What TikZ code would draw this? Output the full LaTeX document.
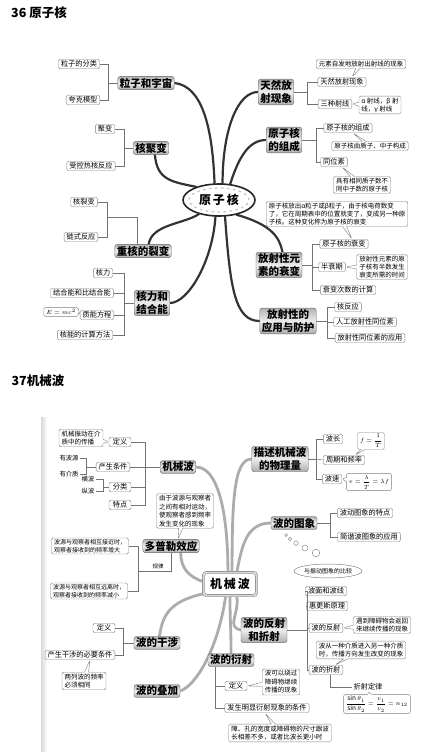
\documentclass[tikz,border=0pt]{standalone}
\usepackage{fontspec}
\setmainfont{Noto Sans CJK SC}
\usepackage{amsmath}
\usetikzlibrary{shapes,arrows,positioning,fit,backgrounds,calc}

\begin{document}
\begin{tikzpicture}[
    x=1pt, y=-1pt,
    headline/.style={inner sep=0pt, font=\fontsize{12.5}{14}\selectfont\bfseries},
    hub/.style={ellipse, draw=black!85, line width=1.6pt, fill=white, minimum width=72pt, minimum height=32pt, inner sep=0pt, font=\fontsize{12}{14}\selectfont\bfseries},
    hubbox/.style={rectangle, rounded corners=3pt, draw=black!55, double=gray!30, double distance=2pt, fill=white, minimum width=53pt, minimum height=23pt, font=\fontsize{12}{14}\selectfont\bfseries},
    branch/.style={rectangle, rounded corners=2.5pt, draw=black!60, top color=gray!60, bottom color=gray!65, middle color=gray!15, inner xsep=2pt, inner ysep=1.5pt, align=center, font=\fontsize{10.5}{12.5}\selectfont\bfseries},
    leaf/.style={rectangle, rounded corners=1.5pt, draw=black!50, fill=white, inner xsep=2.5pt, inner ysep=1.2pt, minimum height=9.5pt, font=\fontsize{7.2}{8}\selectfont},
    leafn/.style={leaf, align=left, font=\fontsize{6}{8}\selectfont},
    note/.style={rectangle callout, rounded corners=1.5pt, draw=black!50, fill=white, inner xsep=2.5pt, inner ysep=1.5pt, align=left, callout pointer width=4pt, font=\fontsize{6.5}{8}\selectfont},
    noteb/.style={note, font=\fontsize{6.5}{8.5}\selectfont},
    plain/.style={inner sep=1pt, font=\fontsize{6.3}{7.5}\selectfont},
    link/.style={draw=black!55, line width=0.5pt},
    bough/.style={draw=black!80, line width=2.2pt, line cap=round},
    boughb/.style={draw=gray!65, line width=2.8pt, line cap=round}
]
\useasboundingbox (0,0) rectangle (421,752);

% ---------- 36 ----------
\node[headline] (t36) at (39,13) {36 原子核};

\node[hub] (ynuc) at (219,200) {原\hspace{2pt}子\hspace{2pt}核};
\draw[gray!45, line width=1.3pt, dash pattern=on 2.5pt off 3.5pt] (ynuc.center) ellipse [x radius=30pt, y radius=12pt];

% left side
\node[branch] (lzyz) at (146,83) {粒子和宇宙};
\node[leaf] (lz1) at (79,64) {粒子的分类};
\node[leaf] (lz2) at (83,100) {夸克模型};
\coordinate (s1) at (108,83);
\draw[link] (lz1.east) -| (s1) -- (lzyz.west);
\draw[link] (lz2.east) -| (s1);

\node[branch] (hjb) at (151,148) {核聚变};
\node[leaf] (hj1) at (105,129) {聚变};
\node[leaf] (hj2) at (91,166) {受控热核反应};
\coordinate (s2) at (124,148);
\draw[link] (hj1.east) -| (s2) -- (hjb.west);
\draw[link] (hj2.east) -| (s2);

\node[branch] (zhlb) at (143,251) {重核的裂变};
\node[leaf] (zh1) at (84,202) {核裂变};
\node[leaf] (zh2) at (81,237) {链式反应};
\coordinate (s3) at (107,217);
\draw[link] (zh1.east) -| (s3);
\draw[link] (zh2.east) -| (s3);
\draw[link] (s3) -| ([xshift=-6pt]zhlb.north);

\node[branch] (hljh) at (152,303) {核力和\\结合能};
\node[leaf] (hl1) at (103,273) {核力};
\node[leaf] (hl2) at (82,293) {结合能和比结合能};
\node[leaf] (hl3) at (97,315) {质能方程};
\node[leaf] (hl4) at (85,335) {核能的计算方法};
\node[note, callout absolute pointer={(hl3.west)}] (hl5) at (61,312) {$E=mc^2$};
\coordinate (s4) at (124,303);
\draw[link] (hl1.east) -| (s4) -- (hljh.west);
\draw[link] (hl4.east) -| (s4);
\draw[link] (hl2.east) -- (hl2.east -| s4);
\draw[link] (hl3.east) -- (hl3.east -| s4);

% right side
\node[branch] (trfs) at (276,92) {天然放\\射现象};
\node[leaf] (tr1) at (342,82) {天然放射现象};
\node[leaf] (tr2) at (335,104) {三种射线};
\node[note, callout absolute pointer={([xshift=10pt]tr1.north)}] (tr0) at (361,64) {元素自发地放射出射线的现象};
\node[note] at (380,105) [callout absolute pointer={(tr2.east)}] (tr3) {α 射线，β 射\\线，γ 射线};
\coordinate (s5) at (307,92);
\draw[link] (tr1.west) -| (s5) -- (trfs.east);
\draw[link] (tr2.west) -| (s5);

\node[branch] (yzzc) at (284,140) {原子核\\的组成};
\node[leaf] (yz1) at (348,128) {原子核的组成};
\node[note, callout absolute pointer={([xshift=5pt]yz1.south)}] (yz2) at (370,146) {原子核由质子、中子构成};
\node[leaf] (yz3) at (334,162) {同位素};
\node[note, callout absolute pointer={([xshift=8pt]yz3.south)}] (yz4) at (362,185) {具有相同质子数不\\同中子数的原子核};
\coordinate (s6) at (316,140);
\draw[link] (yz1.west) -| (s6) -- (yzzc.east);
\draw[link] (yz3.west) -| (s6);

\node[branch] (fsxs) at (279,265) {放射性元\\素的衰变};
\node[leaf] (fs1) at (344,244) {原子核的衰变};
\node[note, callout absolute pointer={([xshift=8pt]fs1.north)}] (fs0) at (337,214) {原子核放出α粒子或β粒子，由于核电荷数变\\了，它在周期表中的位置就变了，变成另一种原\\子核。这种变化称为原子核的衰变};
\node[leaf] (fs2) at (332,267) {半衰期};
\node[note, callout absolute pointer={(fs2.east)}] (fs3) at (382,267) {放射性元素的原\\子核有半数发生\\衰变所需的时间};
\node[leaf] (fs4) at (348,290) {衰变次数的计算};
\coordinate (s7) at (312,265);
\draw[link] (fs1.west) -| (s7) -- (fsxs.east);
\draw[link] (fs4.west) -| (s7);
\draw[link] (fs2.west) -- (fs2.west -| s7);

\node[branch] (fsyy) at (288,321) {放射性的\\应用与防护};
\node[leaf] (fy1) at (348,307) {核反应};
\node[leaf] (fy2) at (365,322) {人工放射性同位素};
\node[leaf] (fy3) at (370,338) {放射性同位素的应用};
\coordinate (s8) at (327,321);
\draw[link] (fy1.west) -| (s8) -- (fsyy.east);
\draw[link] (fy3.west) -| (s8);
\draw[link] (fy2.west) -- (fy2.west -| s8);

% ---------- 37 ----------
\node[headline] (t37) at (38,381) {37机械波};
\shade[left color=gray!30, right color=white] (41,417) rectangle (47,752);

\node[hubbox] (jxb) at (230,584) {机\hspace{2pt}械\hspace{2pt}波};

\node[branch] (jxbb) at (178,467) {机械波};
\node[leaf, minimum width=22pt] (jb1) at (120,442) {定义};
\node[noteb, callout absolute pointer={(jb1.west)}] (jb0) at (81,438) {机械振动在介\\质中的传播};
\node[leaf] (jb2) at (113,467) {产生条件};
\node[plain] (jb2a) at (69,458) {有波源};
\node[plain] (jb2b) at (69,474) {有介质};
\coordinate (s9) at (86,467);
\draw[link] (jb2a.east) -| (s9) -- (jb2.west);
\draw[link] (jb2b.east) -| (s9);
\node[leaf, minimum width=22pt] (jb3) at (120,487) {分类};
\node[plain] (jb3a) at (88,479) {横波};
\node[plain] (jb3b) at (88,491) {纵波};
\coordinate (s10) at (103,487);
\draw[link] (jb3a.east) -| (s10) -- (jb3.west);
\draw[link] (jb3b.east) -| (s10);
\node[leaf, minimum width=22pt] (jb4) at (120,505) {特点};
\coordinate (s11) at (145,467);
\draw[link] (jb1.east) -| (s11) -- (jxbb.west);
\draw[link] (jb2.east) -- (s11);
\draw[link] (jb3.east) -| (s11);
\draw[link] (jb4.east) -| (s11);

\node[branch] (dple) at (171,546) {多普勒效应};
\node[noteb, callout absolute pointer={([xshift=7pt]dple.north)}] (dp0) at (185,511) {由于波源与观察者\\之间有相对运动，\\使观察者感到频率\\发生变化的现象};
\node[leafn] (dp1) at (90,546) {波源与观察者相互接近时，\\观察者接收到的频率增大};
\node[leafn] (dp2) at (89,591) {波源与观察者相互远离时，\\观察者接收到的频率减小};
\coordinate (s12) at (138,571);
\draw[link] (dp1.east) -| (s12);
\draw[link] (dp2.east) -| (s12);
\draw[link] (s12) -| (dple.south);
\node[plain, font=\fontsize{5.5}{6}\selectfont] (gl) at (158,566) {规律};

\node[branch] (bgs) at (157,643) {波的干涉};
\node[leaf, minimum width=22pt] (bg1) at (104,628) {定义};
\node[leaf] (bg2) at (80,655) {产生干涉的必要条件};
\node[noteb, callout absolute pointer={([xshift=10pt]bg2.south)}] (bg3) at (84,681) {两列波的频率\\必须相同};
\coordinate (s13) at (123,643);
\draw[link] (bg1.east) -| (s13) -- (bgs.west);
\draw[link] (bg2.east) -| (s13);

\node[branch] (bdj) at (157,691) {波的叠加};

\node[branch] (msjx) at (280,459) {描述机械波\\的物理量};
\node[leaf] (ms1) at (333,439) {波长};
\node[leaf] (ms2) at (344,460) {周期和频率};
\node[leaf] (ms3) at (332,479) {波速};
\node[note, callout absolute pointer={([xshift=11pt]ms2.north)}] (ms4) at (371,441) {$f=\dfrac{1}{T}$};
\node[note, callout absolute pointer={(ms3.east)}] (ms5) at (369,482) {$v=\dfrac{\lambda}{T}=\lambda f$};
\coordinate (s14) at (316,459);
\draw[link] (ms1.west) -| (s14) -- (msjx.east);
\draw[link] (ms3.west) -| (s14);
\draw[link] (ms2.west) -- (s14);

\node[branch] (btx) at (294,523) {波的图象};
\node[leaf] (bt1) at (365,513) {波动图象的特点};
\node[leaf] (bt2) at (369,537) {简谐波图象的应用};
\coordinate (s15) at (330,523);
\draw[link] (bt1.west) -| (s15) -- (btx.east);
\draw[link] (bt2.west) -| (s15);
\foreach \cx/\cy/\r in {286/535/1.4, 290/539/1.8, 296/543/2.3, 305/548/3, 316/553/3.8}
  \draw[black!45, line width=0.5pt] (\cx,\cy) circle [radius=\r pt];
\node[ellipse, draw=black!50, line width=0.5pt, minimum width=68pt, minimum height=14pt, inner sep=0pt, font=\fontsize{6}{7}\selectfont] (bjzd) at (328,571) {与振动图象的比较};

\node[branch] (bfs) at (264,630) {波的反射\\和折射};
\node[leaf] (bf1) at (326,591) {波面和波线};
\node[leaf] (bf2) at (327,606) {惠更斯原理};
\node[leaf] (bf3) at (326,628) {波的反射};
\node[note, callout absolute pointer={(bf3.east)}] (bf4) at (382,625) {遇到障碍物会返回\\来继续传播的现象};
\node[leaf] (bf6) at (326,670) {波的折射};
\node[noteb, callout absolute pointer={([xshift=9pt]bf6.north)}] (bf5) at (361,650) {波从一种介质进入另一种介质\\时，传播方向发生改变的现象};
\coordinate (s16) at (307,630);
\draw[link] (bf1.west) -| (s16) -- (bfs.east);
\draw[link] (bf6.west) -| (s16);
\draw[link] (bf2.west) -- (bf2.west -| s16);
\draw[link] (bf3.west) -- (bf3.west -| s16);
\node[plain, font=\fontsize{7.2}{8}\selectfont] (zsdl) at (368,687) {折射定律};
\draw[link] ([xshift=4pt]bf6.south) |- (zsdl.west);
\node[note, callout absolute pointer={(zsdl.south)}] (zsgs) at (377,704) {$\dfrac{\sin\theta_1}{\sin\theta_2}=\dfrac{v_1}{v_2}=n_{12}$};

\node[branch] (bys) at (231,660) {波的衍射};
\node[leaf, minimum width=22pt] (by1) at (236,686) {定义};
\node[noteb, callout absolute pointer={(by1.east)}] (by2) at (281,682) {波可以绕过\\障碍物继续\\传播的现象};
\node[leaf] (by3) at (267,708) {发生明显衍射现象的条件};
\node[noteb, callout absolute pointer={([xshift=-2pt]by3.south)}] (by4) at (280,733) {障、孔的宽度或障碍物的尺寸跟波\\长相差不多，或者比波长更小时};
\coordinate (s17) at (215,667);
\draw[link] (s17) |- (by3.west);
\draw[link] (by1.west) -- (by1.west -| s17);

% boughs
\begin{pgfonlayer}{background}
\draw[bough] (ynuc.105) .. controls +(-2,-55) and +(28,3) .. (lzyz.east);
\draw[bough] (ynuc.150) .. controls +(-25,-5) and +(2,25) .. (hjb.-60);
\draw[bough] (ynuc.78) .. controls +(0,-55) and +(-20,0) .. (trfs.west);
\draw[bough] (ynuc.55) .. controls +(8,-25) and +(-18,0) .. (yzzc.west);
\draw[bough] (ynuc.215) .. controls +(-15,10) and +(3,-20) .. (zhlb.50);
\draw[bough] (ynuc.258) .. controls +(-3,45) and +(18,0) .. (hljh.east);
\draw[bough] (ynuc.320) .. controls +(35,10) and +(-3,-15) .. (fsxs.75);
\draw[bough] (ynuc.290) .. controls +(5,70) and +(-25,0) .. (fsyy.west);

\draw[boughb] (jxb.100) .. controls +(0,-60) and +(22,0) .. (jxbb.east);
\draw[boughb] (jxb.80) .. controls +(0,-70) and +(-18,0) .. (msjx.west);
\draw[boughb] (jxb.60) .. controls +(5,-25) and +(-25,0) .. (btx.west);
\draw[boughb] (jxb.175) .. controls +(-15,-5) and +(0,15) .. (dple.-35);
\draw[boughb] (jxb.200) .. controls +(-35,8) and +(3,-20) .. (bgs.70);
\draw[boughb] (jxb.250) .. controls +(-8,55) and +(15,-5) .. (bdj.east);
\draw[boughb] (jxb.300) .. controls +(3,18) and +(-15,-3) .. (bfs.west);
\draw[boughb] (jxb.270) .. controls +(0,30) and +(0,-30) .. (bys.north);
\end{pgfonlayer}

\end{tikzpicture}
\end{document}
